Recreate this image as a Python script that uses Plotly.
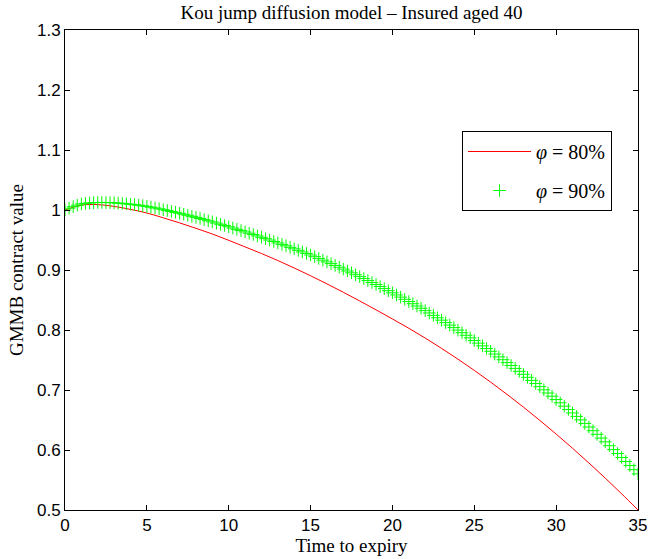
import plotly.graph_objects as go

# Red series (phi = 80%), yearly
t_red = list(range(0, 36))
v_red = [1.000, 1.008, 1.009, 1.006, 1.001, 0.995, 0.987, 0.9785, 0.9695, 0.960,
         0.9495, 0.9385, 0.9275, 0.9158, 0.9034, 0.8904, 0.8769, 0.8629, 0.8484, 0.8336,
         0.8184, 0.8029, 0.7866, 0.7694, 0.7515, 0.7327, 0.7131, 0.6927, 0.6715, 0.6494,
         0.6266, 0.6029, 0.5784, 0.5531, 0.5270, 0.5000]

# Green series (phi = 90%), quarter-yearly markers
t_green = [i * 0.25 for i in range(141)]
v_green = [
    1.0000, 1.0030, 1.0055, 1.0080, 1.0100, 1.0110, 1.0118, 1.0122, 1.0125, 1.0126,
    1.0125, 1.0123, 1.0120, 1.0115, 1.0110, 1.0103, 1.0095, 1.0088, 1.0080, 1.0070,
    1.0060, 1.0047, 1.0034, 1.0020, 1.0005, 0.9991, 0.9976, 0.9961, 0.9945, 0.9929,
    0.9912, 0.9895, 0.9877, 0.9859, 0.9840, 0.9821, 0.9802, 0.9782, 0.9762, 0.9741,
    0.9720, 0.9699, 0.9678, 0.9657, 0.9635, 0.9613, 0.9591, 0.9568, 0.9545, 0.9522,
    0.9499, 0.9475, 0.9451, 0.9427, 0.9403, 0.9378, 0.9353, 0.9328, 0.9302, 0.9276,
    0.9250, 0.9222, 0.9193, 0.9164, 0.9135, 0.9106, 0.9076, 0.9046, 0.9015, 0.8984,
    0.8953, 0.8921, 0.8889, 0.8857, 0.8824, 0.8791, 0.8758, 0.8724, 0.8690, 0.8655,
    0.8620, 0.8584, 0.8548, 0.8512, 0.8475, 0.8438, 0.8400, 0.8362, 0.8323, 0.8284,
    0.8244, 0.8204, 0.8164, 0.8123, 0.8082, 0.8040, 0.7998, 0.7955, 0.7912, 0.7869,
    0.7825, 0.7781, 0.7736, 0.7691, 0.7645, 0.7599, 0.7552, 0.7505, 0.7457, 0.7409,
    0.7360, 0.7311, 0.7261, 0.7211, 0.7160, 0.7108, 0.7056, 0.7003, 0.6950, 0.6896,
    0.6842, 0.6787, 0.6731, 0.6675, 0.6618, 0.6560, 0.6502, 0.6443, 0.6383, 0.6322,
    0.6261, 0.6199, 0.6136, 0.6072, 0.6007, 0.5942, 0.5876, 0.5809, 0.5741, 0.5672,
    0.5602]

names = ["<i>φ</i> = 80%", "<i>φ</i> = 90%"]
title = "Kou jump diffusion model – Insured aged 40"
xlabel = "Time to expiry"
ylabel = "GMMB contract value"

serif = "Liberation Serif"
sans = "Liberation Sans"

fig = go.Figure()
fig.add_trace(go.Scatter(x=t_red, y=v_red, mode="lines", name=names[0],
                         line=dict(color="#FF0000", width=1, shape="spline"),
                         legendgroup="a"))
fig.add_trace(go.Scatter(x=t_green, y=v_green, mode="markers", name=names[1],
                         marker=dict(symbol="cross-thin", size=9,
                                     line=dict(color="#00FF00", width=1)),
                         legendgroup="b"))

axis_common = dict(showline=True, linecolor="black", linewidth=1, mirror="allticks",
                   ticks="inside", ticklen=5, tickcolor="black", showgrid=False,
                   zeroline=False, automargin=False,
                   tickfont=dict(family=sans, size=17, color="black"))

L, R, T, B = 65, 12, 30, 49
W, H = 650, 559
pw, ph = W - L - R, H - T - B

fig.update_layout(
    width=W, height=H,
    margin=dict(l=L, r=R, t=T, b=B, autoexpand=False),
    paper_bgcolor="white", plot_bgcolor="white",
    title=dict(text=title, x=(L + pw / 2) / W, xanchor="center", y=1 - 12 / H,
               yanchor="middle", font=dict(family=serif, size=19, color="black")),
    xaxis=dict(range=[0, 35], dtick=5, tick0=0,
               title=dict(text=xlabel, font=dict(family=serif, size=19, color="black"),
                          standoff=0),
               **axis_common),
    yaxis=dict(range=[0.5, 1.3], dtick=0.1, tick0=0.5,
               title=dict(text=ylabel, font=dict(family=serif, size=19, color="black"),
                          standoff=8),
               **axis_common),
    legend=dict(x=(462 - L) / pw, y=(H - B - 131) / ph, xanchor="left", yanchor="top",
                bgcolor="white", bordercolor="black", borderwidth=1,
                font=dict(family=serif, size=20, color="black"),
                itemwidth=63, tracegroupgap=10),
    showlegend=True,
)

fig.write_html("out.html")
